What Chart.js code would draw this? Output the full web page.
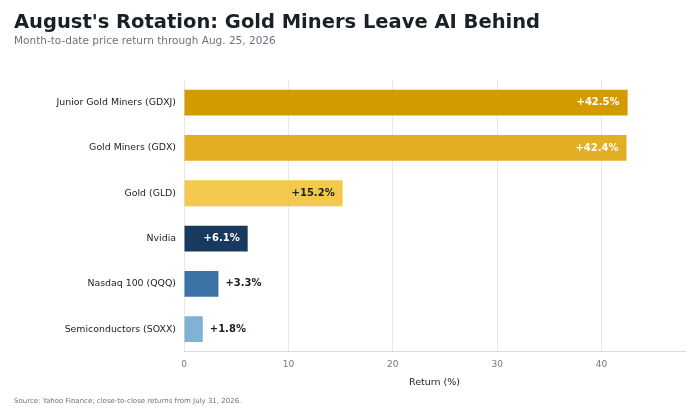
<!DOCTYPE html>
<html>
<head>
<meta charset="utf-8">
<script src="https://cdn.jsdelivr.net/npm/chart.js@4"></script>
<style>
html,body{margin:0;padding:0;background:#fff;}
#wrap{width:700px;height:420px;position:relative;}
</style>
</head>
<body>
<div id="wrap"><canvas id="c" width="700" height="420"></canvas></div>
<script>
const categories = ["Junior Gold Miners (GDXJ)", "Gold Miners (GDX)", "Gold (GLD)", "Nvidia", "Nasdaq 100 (QQQ)", "Semiconductors (SOXX)"];
const returnsPct = [42.5, 42.4, 15.2, 6.1, 3.3, 1.8];
const barColors = ["#D49B00", "#E3AE24", "#F2C94C", "#173A5E", "#3B73A7", "#7FB2D5"];
const labelInside = [true, true, true, true, false, false];
const labelColors = ["#ffffff", "#ffffff", "#1a1f2b", "#ffffff", "#1a1f2b", "#1a1f2b"];
const xTicks = [0, 10, 20, 30, 40];

const FONT = "'DejaVu Sans', sans-serif";

const valueLabels = {
  id: 'valueLabels',
  afterDatasetsDraw(chart) {
    const ctx = chart.ctx;
    const meta = chart.getDatasetMeta(0);
    ctx.save();
    ctx.font = "bold 10px " + FONT;
    ctx.textBaseline = 'middle';
    meta.data.forEach((bar, i) => {
      const txt = '+' + returnsPct[i].toFixed(1) + '%';
      ctx.fillStyle = labelColors[i];
      if (labelInside[i]) {
        ctx.textAlign = 'right';
        ctx.fillText(txt, bar.x - 8, bar.y);
      } else {
        ctx.textAlign = 'left';
        ctx.fillText(txt, bar.x + 7, bar.y);
      }
    });
    ctx.restore();
  }
};

const footer = {
  id: 'footer',
  afterDraw(chart) {
    const ctx = chart.ctx;
    ctx.save();
    ctx.font = "7px " + FONT;
    ctx.fillStyle = '#6b7280';
    ctx.textAlign = 'left';
    ctx.textBaseline = 'middle';
    ctx.fillText('Source: Yahoo Finance; close-to-close returns from July 31, 2026.', 14, 401.5);
    ctx.restore();
  }
};

new Chart(document.getElementById('c'), {
  type: 'bar',
  data: {
    labels: categories,
    datasets: [{
      data: returnsPct,
      backgroundColor: barColors,
      borderWidth: 0,
      barPercentage: 0.57,
      categoryPercentage: 1.0
    }]
  },
  options: {
    indexAxis: 'y',
    responsive: false,
    animation: false,
    devicePixelRatio: 1,
    layout: { padding: { left: 14, right: 15, top: 0, bottom: 28 } },
    plugins: {
      legend: { display: false },
      tooltip: { enabled: false },
      title: {
        display: true,
        text: "August's Rotation: Gold Miners Leave AI Behind",
        align: 'start',
        color: '#1b1f27',
        font: { family: FONT, size: 19.5, weight: 'bold' },
        padding: { top: 11, bottom: 1 }
      },
      subtitle: {
        display: true,
        text: 'Month-to-date price return through Aug. 25, 2026',
        align: 'start',
        color: '#6b7280',
        font: { family: FONT, size: 10.5 },
        padding: { top: 0, bottom: 32 }
      }
    },
    scales: {
      x: {
        min: 0,
        max: 48,
        afterBuildTicks(scale) { scale.ticks = xTicks.map(v => ({ value: v })); },
        grid: { color: '#e8e8e8', drawTicks: false },
        border: { display: true, color: '#dddddd' },
        ticks: { color: '#777777', font: { family: FONT, size: 9 }, padding: 7 },
        title: { display: true, text: 'Return (%)', color: '#222222', font: { family: FONT, size: 9.5 }, padding: { top: 0, bottom: 4 } }
      },
      y: {
        afterFit(scale) { scale.width = 170; },
        grid: { display: false, drawTicks: false },
        border: { display: false },
        ticks: { color: '#222222', font: { family: FONT, size: 9.4 }, padding: 8 }
      }
    }
  },
  plugins: [valueLabels, footer]
});
</script>
</body>
</html>
